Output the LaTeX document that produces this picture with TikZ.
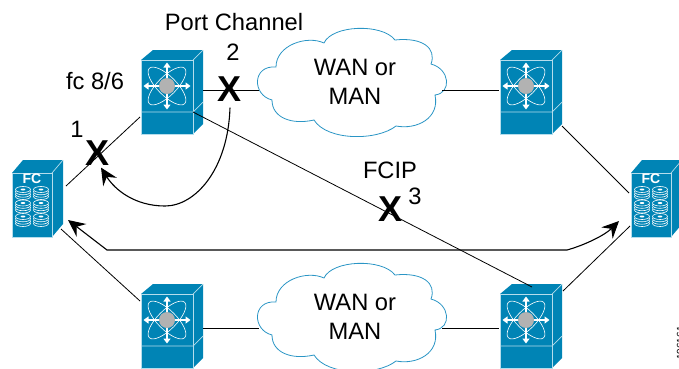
\documentclass[tikz,border=0pt]{standalone}
\usepackage{fontspec}
\setmainfont{Liberation Sans}
\usetikzlibrary{arrows.meta, calc}

\definecolor{ciscoblue}{HTML}{0084B5}
\definecolor{cloudblue}{HTML}{2A95C5}
\definecolor{edgeblue}{HTML}{B5DDEC}

\tikzset{
  nexus/.pic={
    \fill[ciscoblue] (-26,-37) -- (-14,-47) -- (36,-47) -- (36,27) -- (26,37) -- (-26,37) -- cycle;
    \draw[edgeblue, line width=0.7pt] (-26,-37) rectangle (26,37);
    \draw[edgeblue, line width=0.7pt] (-26,15) -- (26,15) -- (36,5);
    \draw[edgeblue, line width=0.7pt] (26,-37) -- (36,-47);
    \draw[white, line width=0.6pt, rotate around={45:(0,-11)}] (0,-11) ellipse [x radius=25, y radius=9.5];
    \draw[white, line width=0.6pt, rotate around={-45:(0,-11)}] (0,-11) ellipse [x radius=25, y radius=9.5];
    \draw[white, line width=1.5pt, {Triangle[length=5pt,width=7pt]}-{Triangle[length=5pt,width=7pt]}] (-23.5,-11) -- (23.5,-11);
    \draw[white, line width=1.5pt, {Triangle[length=5pt,width=7pt]}-{Triangle[length=5pt,width=7pt]}] (0,-34.5) -- (0,12.5);
    \fill[black!30] (0,-11) circle (8);
  },
  fcstore/.pic={
    \fill[ciscoblue] (-20,-32) -- (-9,-45) -- (31,-45) -- (31,19) -- (20,32) -- (-20,32) -- cycle;
    \draw[edgeblue, line width=0.7pt] (-20,-32) rectangle (20,32);
    \draw[edgeblue, line width=0.7pt] (20,-32) -- (31,-45);
    \node[white, font=\bfseries\fontsize{14}{14}\selectfont, inner sep=0pt] at (0,-26) {FC};
    \foreach \dx in {-9,9}
      \foreach \dy in {-12,1.5,15} {
        \foreach \ly in {3.5,1.2,-1.2,-3.5}
          \draw[white, fill=ciscoblue, line width=0.6pt] (\dx,\dy+\ly) ellipse [x radius=7.5, y radius=3];
        \fill[white] (\dx,\dy-3.5) ellipse [x radius=2.4, y radius=1];
      }
  },
  wancloud/.pic={
    \draw[cloudblue, line width=0.8pt] (-76,-16)
      .. controls (-76,-38) and (-45,-48) .. (-28,-40)
      .. controls (-20,-58) and (30,-60) .. (43,-43)
      .. controls (70,-46) and (85,-35) .. (79,-19)
      .. controls (98,-14) and (100,10) .. (83,12)
      .. controls (88,35) and (65,47) .. (44,43)
      .. controls (25,58) and (-25,58) .. (-38,37)
      .. controls (-60,42) and (-80,35) .. (-80,17)
      .. controls (-100,12) and (-100,-18) .. (-76,-16) -- cycle;
  }
}

\begin{document}
\begin{tikzpicture}[
  x=1pt, y=-1pt,
  devbox/.style={rectangle, inner sep=0pt, outer sep=0pt, minimum width=52pt, minimum height=74pt},
  storebox/.style={rectangle, inner sep=0pt, outer sep=0pt, minimum width=40pt, minimum height=64pt},
  cloudbox/.style={rectangle, inner sep=0pt, outer sep=0pt, minimum width=186pt, minimum height=106pt, align=center, font=\fontsize{23.7}{29}\selectfont},
  lbl/.style={inner sep=0pt, font=\fontsize{23.7}{28}\selectfont},
  xmark/.style={inner sep=0pt, font=\bfseries\fontsize{36}{36}\selectfont},
  link/.style={line width=0.8pt},
  arrow/.style={-{Stealth[length=17pt,width=16pt,inset=6pt]}, line width=1.1pt}
]
\clip (0,0) rectangle (679,368);

% Switches
\foreach \name/\px/\py in {swTL/167/97, swTR/526/97, swBL/167/331, swBR/526/331} {
  \pic at (\px,\py) {nexus};
  \node[devbox] (\name) at (\px,\py) {};
}

% FC storage
\foreach \name/\px in {fcL/32, fcR/651} {
  \pic at (\px,205) {fcstore};
  \node[storebox] (\name) at (\px,205) {};
}

% Clouds
\pic at (352,83) {wancloud};
\node[cloudbox] (cloudT) at (355,82) {WAN or\\MAN};
\pic at (352,318) {wancloud};
\node[cloudbox] (cloudB) at (355,317) {WAN or\\MAN};

% Labels
\node[lbl] (portlbl) at (234,22) {Port Channel};
\node[lbl] (two) at (233,52) {2};
\node[lbl] (fclbl) at (95,81) {fc 8/6};
\node[lbl] (one) at (77,129) {1};
\node[lbl] (fciplbl) at (390,170) {FCIP};
\node[lbl] (three) at (415,196) {3};
\node[inner sep=0pt, rotate=90, font=\fontsize{10}{10}\selectfont] (figid) at (680.5,343) {196161};

% Links
\draw[link] ([shift={(36,-7)}]swTL.center) -- ([shift={(-3,8)}]cloudT.west);
\draw[link] ([shift={(-6,8)}]cloudT.east) -- ([shift={(-27,-7)}]swTR.center);
\draw[link] ([shift={(36,-3)}]swBL.center) -- ([shift={(-3,11)}]cloudB.west);
\draw[link] ([shift={(-6,11)}]cloudB.east) -- ([shift={(-27,-3)}]swBR.center);
\draw[link] ([shift={(34,-19)}]fcL.center) -- ([shift={(-27,20)}]swTL.center);
\draw[link] ([shift={(29,24)}]fcL.center) -- ([shift={(-27,-30)}]swBL.center);
\draw[link] ([shift={(26,15)}]swTL.center) -- ([shift={(6,-44)}]swBR.center);
\draw[link] ([shift={(36,29)}]swTR.center) -- ([shift={(-22,-12)}]fcR.center);
\draw[link] ([shift={(37,-40)}]swBR.center) -- ([shift={(-21,21)}]fcR.center);

% Failure marks
\node[xmark] (xA) at (98,153) {X};
\node[xmark] (xB) at (230,89) {X};
\node[xmark] (xC) at (390,209) {X};

% Arrows
\draw[arrow] ([shift={(0,6)}]xB.south) .. controls (228,170) and (195,206) .. (165,206) .. controls (135,206) and (115,190) .. ([shift={(3,2)}]xA.south);
\draw[arrow, {Stealth[length=17pt,width=16pt,inset=6pt]}-{Stealth[length=17pt,width=16pt,inset=6pt]}] ([shift={(36,15)}]fcL.center) -- (107,250) -- (567,250) .. controls (585,245) and (605,235) .. ([shift={(-32,16)}]fcR.center);
\end{tikzpicture}
\end{document}
